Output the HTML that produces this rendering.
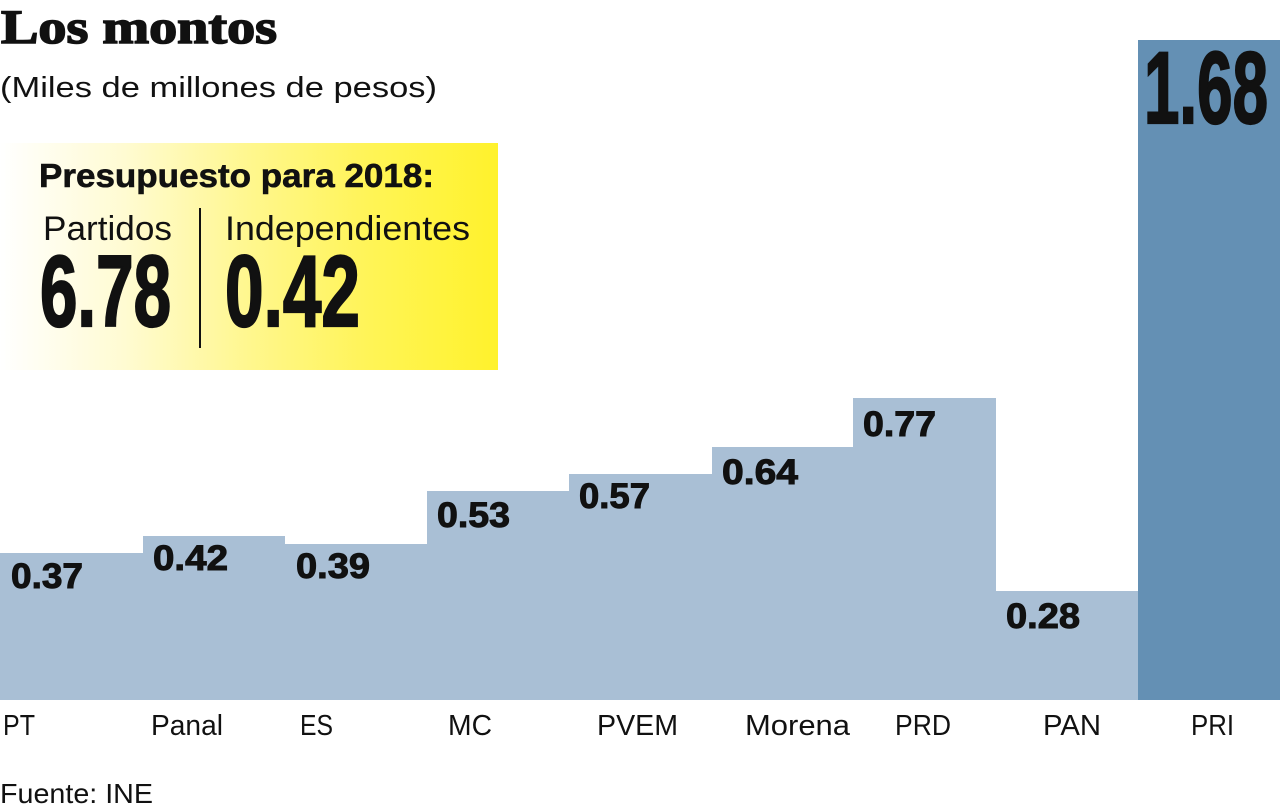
<!DOCTYPE html>
<html>
<head>
<meta charset="utf-8">
<style>
html,body{margin:0;padding:0;background:#fff;}
svg{display:block;}
</style>
</head>
<body>
<svg width="1280" height="809" viewBox="0 0 1280 809" xmlns="http://www.w3.org/2000/svg">
  <defs>
    <linearGradient id="yg" x1="0" y1="0" x2="1" y2="0">
      <stop offset="0" stop-color="#ffffff"/>
      <stop offset="0.25" stop-color="#fffbd2"/>
      <stop offset="0.5" stop-color="#fff78e"/>
      <stop offset="0.75" stop-color="#fff455"/>
      <stop offset="1" stop-color="#fff22c"/>
    </linearGradient>
  </defs>
  <rect width="1280" height="809" fill="#ffffff"/>

  <!-- Title -->
  <text x="1" y="43" font-family="Liberation Serif, serif" font-weight="bold" font-size="48" fill="#111" stroke="#111" stroke-width="1.6" textLength="276" lengthAdjust="spacingAndGlyphs">Los montos</text>
  <text x="0" y="97" font-family="Liberation Sans, sans-serif" font-size="29" fill="#111" textLength="437" lengthAdjust="spacingAndGlyphs">(Miles de millones de pesos)</text>

  <!-- Yellow box -->
  <rect x="0" y="143" width="498" height="227" fill="url(#yg)"/>
  <text x="39" y="187" font-family="Liberation Sans, sans-serif" font-weight="bold" font-size="33" fill="#111" stroke="#111" stroke-width="0.6" textLength="395" lengthAdjust="spacingAndGlyphs">Presupuesto para 2018:</text>
  <text x="43" y="240" font-family="Liberation Sans, sans-serif" font-size="34" fill="#111" textLength="129" lengthAdjust="spacingAndGlyphs">Partidos</text>
  <text x="225" y="240" font-family="Liberation Sans, sans-serif" font-size="34" fill="#111" textLength="245" lengthAdjust="spacingAndGlyphs">Independientes</text>
  <rect x="199" y="208" width="2" height="140" fill="#111"/>
  <text x="40" y="326" font-family="Liberation Sans Narrow, Liberation Sans, sans-serif" font-weight="bold" font-size="101" fill="#111" stroke="#111" stroke-width="2.2" textLength="131" lengthAdjust="spacingAndGlyphs">6.78</text>
  <text x="225" y="326" font-family="Liberation Sans Narrow, Liberation Sans, sans-serif" font-weight="bold" font-size="101" fill="#111" stroke="#111" stroke-width="2.2" textLength="135" lengthAdjust="spacingAndGlyphs">0.42</text>

  <!-- Bars -->
  <g fill="#a9bfd5">
    <rect x="0" y="553" width="143" height="147"/>
    <rect x="143" y="536" width="142" height="164"/>
    <rect x="285" y="544" width="142" height="156"/>
    <rect x="427" y="491" width="142" height="209"/>
    <rect x="569" y="474" width="143" height="226"/>
    <rect x="712" y="447" width="141" height="253"/>
    <rect x="853" y="398" width="143" height="302"/>
    <rect x="996" y="591" width="142" height="109"/>
  </g>
  <rect x="1138" y="40" width="142" height="660" fill="#6490b4"/>

  <!-- Value labels -->
  <g font-family="Liberation Sans, sans-serif" font-weight="bold" font-size="35" fill="#111" stroke="#111" stroke-width="1">
    <text x="11" y="588" textLength="72" lengthAdjust="spacingAndGlyphs">0.37</text>
    <text x="153" y="570" textLength="75" lengthAdjust="spacingAndGlyphs">0.42</text>
    <text x="296" y="578" textLength="74" lengthAdjust="spacingAndGlyphs">0.39</text>
    <text x="437" y="527" textLength="73" lengthAdjust="spacingAndGlyphs">0.53</text>
    <text x="579" y="508" textLength="71" lengthAdjust="spacingAndGlyphs">0.57</text>
    <text x="722" y="484" textLength="76" lengthAdjust="spacingAndGlyphs">0.64</text>
    <text x="863" y="436" textLength="73" lengthAdjust="spacingAndGlyphs">0.77</text>
    <text x="1006" y="628" textLength="74" lengthAdjust="spacingAndGlyphs">0.28</text>
  </g>
  <text x="1144" y="123" font-family="Liberation Sans Narrow, Liberation Sans, sans-serif" font-weight="bold" font-size="102" fill="#111" stroke="#111" stroke-width="2.2" textLength="124" lengthAdjust="spacingAndGlyphs">1.68</text>

  <!-- Category labels -->
  <g font-family="Liberation Sans, sans-serif" font-size="29" fill="#111">
    <text x="3" y="735" textLength="32" lengthAdjust="spacingAndGlyphs">PT</text>
    <text x="151" y="735" textLength="72" lengthAdjust="spacingAndGlyphs">Panal</text>
    <text x="300" y="735" textLength="33" lengthAdjust="spacingAndGlyphs">ES</text>
    <text x="448" y="735" textLength="44" lengthAdjust="spacingAndGlyphs">MC</text>
    <text x="597" y="735" textLength="81" lengthAdjust="spacingAndGlyphs">PVEM</text>
    <text x="745" y="735" textLength="105" lengthAdjust="spacingAndGlyphs">Morena</text>
    <text x="895" y="735" textLength="56" lengthAdjust="spacingAndGlyphs">PRD</text>
    <text x="1043" y="735" textLength="58" lengthAdjust="spacingAndGlyphs">PAN</text>
    <text x="1191" y="735" textLength="43" lengthAdjust="spacingAndGlyphs">PRI</text>
  </g>

  <!-- Source -->
  <text x="0" y="803" font-family="Liberation Sans, sans-serif" font-size="28" fill="#111" textLength="153" lengthAdjust="spacingAndGlyphs">Fuente: INE</text>
</svg>
</body>
</html>
